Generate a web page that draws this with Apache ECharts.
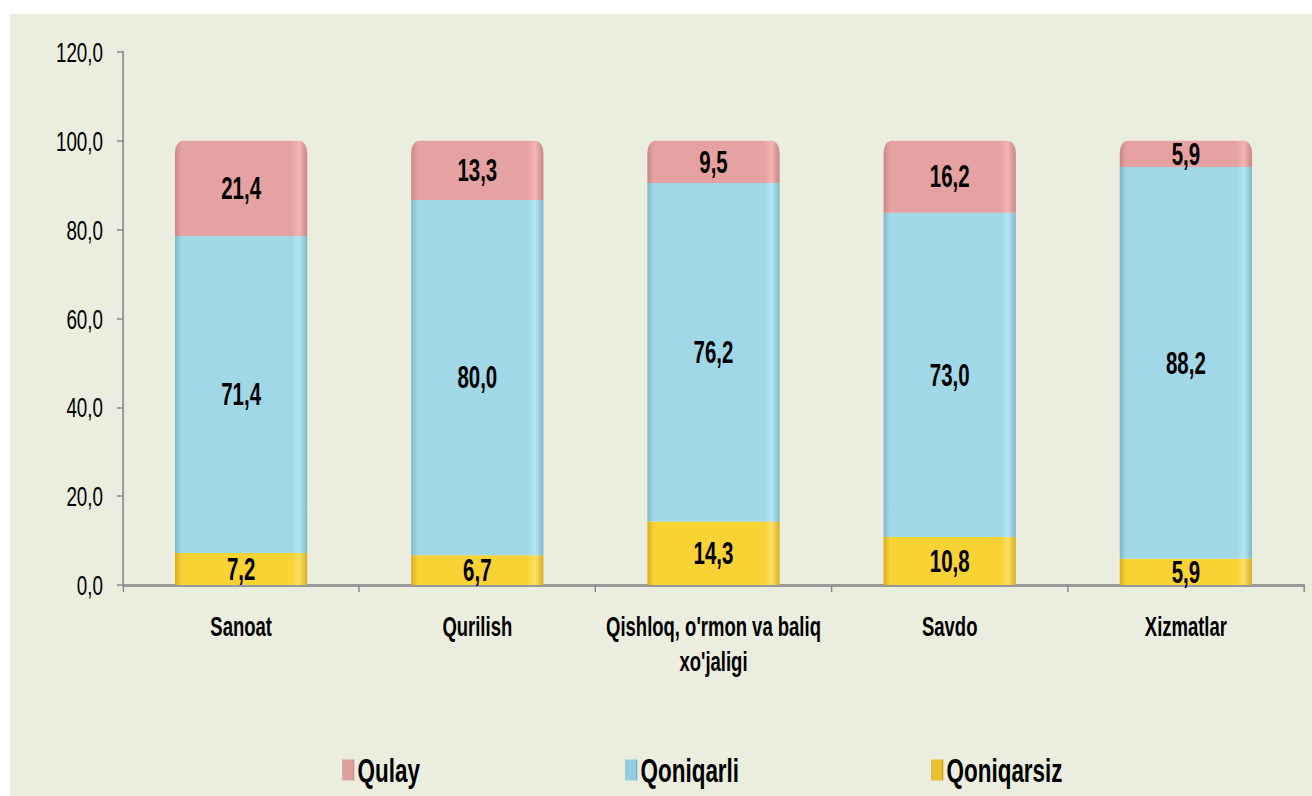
<!DOCTYPE html>
<html>
<head>
<meta charset="utf-8">
<script src="https://cdn.jsdelivr.net/npm/echarts@6/dist/echarts.min.js"></script>
<style>
  html, body { margin: 0; padding: 0; background: #ffffff; overflow: hidden; }
  #panel { position: absolute; left: 10px; top: 14px; width: 1302px; height: 782px; background: #EBEEDF; }
  #chart { position: absolute; left: 0; top: 0; height: 796px; transform-origin: 0 0; }
</style>
</head>
<body>
<div id="panel"></div>
<div id="chart"></div>
<script>
const categories = ["Sanoat", "Qurilish", "Qishloq, o'rmon va baliq\nxo'jaligi", "Savdo", "Xizmatlar"];
const seriesNames = ["Qulay", "Qoniqarli", "Qoniqarsiz"];
const qoniqarsiz = [7.2, 6.7, 14.3, 10.8, 5.9];
const qoniqarli = [71.4, 80.0, 76.2, 73.0, 88.2];
const qulay = [21.4, 13.3, 9.5, 16.2, 5.9];
const yTicks = [0, 20, 40, 60, 80, 100, 120];

// narrow-font look: chart is laid out wider, then squeezed horizontally
const SX = 0.66;
const W = 1312, H = 796;
const UW = W / SX;
const ux = v => v / SX;

const el = document.getElementById('chart');
el.style.width = UW + 'px';
el.style.transform = 'scaleX(' + SX + ')';

const FONT = '"Liberation Sans", Arial, sans-serif';
const fmt = v => Number(v).toFixed(1).replace('.', ',');

function barGrad(dark, main, light) {
  return {
    type: 'linear', x: 0, y: 0, x2: 1, y2: 0,
    colorStops: [
      { offset: 0, color: dark },
      { offset: 0.05, color: main },
      { offset: 0.88, color: main },
      { offset: 0.94, color: light },
      { offset: 1, color: dark }
    ]
  };
}

const colors = {
  Qulay: barGrad('#C98787', '#E6A2A2', '#F2B4B4'),
  Qoniqarli: barGrad('#7FB8C8', '#A0D8E8', '#B4E6F4'),
  Qoniqarsiz: barGrad('#D9AE1F', '#F9D233', '#FCE066')
};
const legendColors = {
  Qulay: barGrad('#C88888', '#E0A0A0', '#C88888'),
  Qoniqarli: barGrad('#6FAFC8', '#94CCE0', '#6FAFC8'),
  Qoniqarsiz: barGrad('#C89A10', '#E8C030', '#C89A10')
};
const legendLeft = { Qulay: 339, Qoniqarli: 622, Qoniqarsiz: 928 };

const labelStyle = {
  show: true, position: 'inside', color: '#000', fontFamily: FONT,
  fontWeight: 'bold', fontSize: 31, formatter: p => fmt(p.value)
};

function mk(name, data, radius) {
  return {
    name: name, type: 'bar', stack: 'total', data: data, barWidth: '56%',
    itemStyle: { color: colors[name], borderRadius: radius },
    label: labelStyle,
    emphasis: { disabled: true }
  };
}

const chart = echarts.init(el, null, { renderer: 'svg', width: UW, height: H });
chart.setOption({
  backgroundColor: 'transparent',
  animation: false,
  grid: { left: ux(123), right: ux(8), top: 52, bottom: 211, containLabel: false },
  legend: seriesNames.map(n => ({
    data: [{ name: n, itemStyle: { color: legendColors[n] } }],
    left: ux(legendLeft[n]), top: 748, icon: 'rect', itemWidth: ux(12), itemHeight: 21,
    selectedMode: false,
    textStyle: { fontFamily: FONT, fontWeight: 'bold', fontSize: 34, color: '#000' }
  })),
  xAxis: {
    type: 'category', data: categories,
    axisLine: { lineStyle: { color: '#999999', width: 3 } },
    axisTick: { show: true, alignWithLabel: false, length: 7, lineStyle: { color: '#888', width: ux(1.5) } },
    axisLabel: { fontFamily: FONT, fontWeight: 'bold', fontSize: 28, color: '#000', margin: 24, lineHeight: 35, interval: 0 }
  },
  yAxis: {
    type: 'value', min: 0, max: 120, interval: 20,
    splitLine: { show: false },
    axisLine: { show: true, lineStyle: { color: '#999999', width: ux(2) } },
    axisTick: { show: true, inside: false, length: ux(6), lineStyle: { color: '#888', width: 1.5 } },
    axisLabel: { fontFamily: FONT, fontSize: 28.5, color: '#000', margin: ux(20), formatter: v => yTicks.includes(v) ? fmt(v) : '' }
  },
  series: [
    mk('Qoniqarsiz', qoniqarsiz, 0),
    mk('Qoniqarli', qoniqarli, 0),
    mk('Qulay', qulay, [12, 12, 0, 0])
  ]
});
</script>
</body>
</html>
